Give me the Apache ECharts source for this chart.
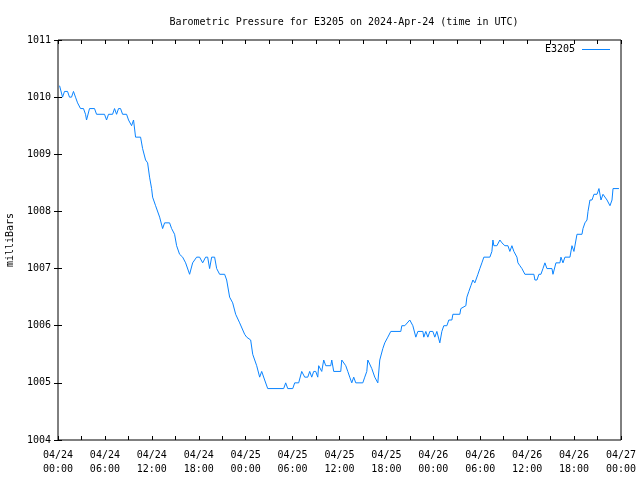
<!DOCTYPE html>
<html>
<head>
<meta charset="utf-8">
<script src="https://cdn.jsdelivr.net/npm/echarts@6/dist/echarts.min.js"></script>
<style>html,body{margin:0;padding:0;background:#fff}#c{width:640px;height:480px}</style>
</head>
<body>
<div id="c"></div>
<script>
// hours since 2024-04-24 00:00 UTC
const hours = [0.2,0.45,0.58,0.83,1.22,1.47,1.73,1.98,2.24,2.5,2.88,3.26,3.52,3.65,3.9,4.03,4.67,4.93,5.95,6.21,6.46,6.98,7.23,7.49,7.74,8.0,8.26,8.77,9.02,9.15,9.41,9.66,9.79,9.92,10.56,10.82,11.2,11.46,11.71,11.97,12.1,12.48,13.0,13.38,13.63,14.27,14.53,14.91,15.17,15.55,15.94,16.32,16.83,17.22,17.73,18.11,18.5,18.88,19.14,19.39,19.65,20.03,20.29,20.67,21.31,21.57,21.95,22.34,22.72,23.23,23.87,24.13,24.64,24.9,25.41,25.79,26.05,26.43,26.82,28.86,29.12,29.38,30.02,30.27,30.78,31.17,31.55,31.94,32.19,32.45,32.7,32.96,33.22,33.34,33.73,33.98,34.24,34.88,35.01,35.26,36.16,36.29,36.54,36.8,37.06,37.31,37.57,37.82,38.08,38.98,39.23,39.49,39.62,39.87,40.13,40.51,40.9,41.15,41.54,41.79,42.18,42.56,43.84,43.97,44.35,44.99,45.38,45.76,46.02,46.66,46.78,47.04,47.3,47.55,47.94,48.19,48.45,48.58,48.83,49.09,49.34,49.73,49.98,50.37,50.5,51.39,51.52,52.16,52.29,52.54,52.8,53.06,53.31,53.44,53.7,53.95,54.21,54.46,55.23,55.49,55.62,55.74,56.13,56.51,56.77,57.15,57.54,57.79,58.05,58.3,58.69,58.82,59.07,59.33,59.71,60.86,60.99,61.25,61.5,61.76,62.02,62.27,62.53,63.17,63.3,63.55,63.68,64.19,64.32,64.58,64.83,65.47,65.73,65.86,65.98,66.24,66.37,67.01,67.14,67.39,67.65,67.78,68.03,68.29,68.42,68.54,68.93,69.06,69.18,69.44,69.7,69.95,70.21,70.46,70.59,70.85,70.98,71.74];
const pressure = [1010.2,1010.2,1010.0,1010.1,1010.1,1010.0,1010.0,1010.1,1010.0,1009.9,1009.8,1009.8,1009.7,1009.6,1009.6,1009.8,1009.8,1009.7,1009.7,1009.6,1009.7,1009.7,1009.8,1009.7,1009.8,1009.8,1009.7,1009.7,1009.6,1009.6,1009.5,1009.6,1009.6,1009.3,1009.3,1009.1,1008.9,1008.85,1008.6,1008.4,1008.25,1008.1,1007.9,1007.7,1007.8,1007.8,1007.7,1007.6,1007.4,1007.25,1007.2,1007.1,1006.9,1007.1,1007.2,1007.2,1007.1,1007.2,1007.2,1007.0,1007.2,1007.2,1007.0,1006.9,1006.9,1006.8,1006.5,1006.4,1006.2,1006.05,1005.85,1005.8,1005.75,1005.5,1005.3,1005.1,1005.2,1005.05,1004.9,1004.9,1005.0,1004.9,1004.9,1005.0,1005.0,1005.2,1005.1,1005.1,1005.2,1005.1,1005.2,1005.2,1005.1,1005.3,1005.2,1005.4,1005.3,1005.3,1005.4,1005.2,1005.2,1005.4,1005.4,1005.3,1005.2,1005.1,1005.0,1005.1,1005.0,1005.0,1005.1,1005.2,1005.4,1005.4,1005.25,1005.1,1005.0,1005.4,1005.6,1005.7,1005.8,1005.9,1005.9,1006.0,1006.0,1006.1,1006.0,1005.8,1005.9,1005.9,1005.8,1005.9,1005.8,1005.9,1005.9,1005.8,1005.9,1005.9,1005.7,1005.9,1006.0,1006.0,1006.1,1006.1,1006.2,1006.2,1006.3,1006.35,1006.5,1006.6,1006.7,1006.8,1006.75,1006.8,1006.9,1007.0,1007.1,1007.2,1007.2,1007.3,1007.5,1007.4,1007.4,1007.5,1007.45,1007.4,1007.4,1007.3,1007.4,1007.3,1007.2,1007.1,1007.05,1007.0,1006.9,1006.9,1006.8,1006.8,1006.9,1006.9,1007.0,1007.1,1007.0,1007.0,1006.9,1006.9,1007.1,1007.1,1007.2,1007.1,1007.2,1007.2,1007.4,1007.4,1007.3,1007.5,1007.6,1007.6,1007.7,1007.8,1007.85,1008.0,1008.2,1008.2,1008.25,1008.3,1008.3,1008.35,1008.4,1008.2,1008.3,1008.3,1008.2,1008.2,1008.1,1008.2,1008.4,1008.4];
const xTickLabels = ['04/24\n00:00','04/24\n06:00','04/24\n12:00','04/24\n18:00','04/25\n00:00','04/25\n06:00','04/25\n12:00','04/25\n18:00','04/26\n00:00','04/26\n06:00','04/26\n12:00','04/26\n18:00','04/27\n00:00'];
const seriesName = 'E3205';
const titleText = 'Barometric Pressure for E3205 on 2024-Apr-24 (time in UTC)';
const yName = 'milliBars';

const FONT = 'DejaVu Sans Mono';
const LINE_COLOR = '#0a84ff';
const chart = echarts.init(document.getElementById('c'), null, {renderer: 'canvas'});
const tickCommon = {show: true, inside: true, length: 4, lineStyle: {color: '#000'}};
chart.setOption({
  animation: false,
  backgroundColor: '#fff',
  textStyle: {fontFamily: FONT},
  title: {text: titleText, left: 339, textAlign: 'center', top: 12,
    textStyle: {fontFamily: FONT, fontSize: 10, fontWeight: 'normal', color: '#000'}},
  grid: {left: 58, right: 19, top: 40, bottom: 40, show: true, borderColor: '#000', borderWidth: 1,
    containLabel: false, outerBoundsMode: 'none'},
  graphic: [
    {type: 'text', right: 65, top: 44, style: {text: seriesName, fill: '#000', font: '10px "DejaVu Sans Mono"', textAlign: 'right'}},
    {type: 'line', shape: {x1: 582, y1: 49.5, x2: 610, y2: 49.5}, style: {stroke: LINE_COLOR, lineWidth: 1}}
  ],
  xAxis: [
    {type: 'value', min: 0, max: 72, interval: 6, position: 'bottom',
      axisLine: {show: false}, splitLine: {show: false},
      axisTick: tickCommon,
      minorTick: {show: true, splitNumber: 2, length: 4, lineStyle: {color: '#000'}},
      axisLabel: {color: '#000', fontFamily: FONT, fontSize: 10, margin: 8, lineHeight: 14,
        formatter: v => xTickLabels[Math.round(v / 6)]}},
    {type: 'value', min: 0, max: 72, interval: 6, position: 'top',
      axisLine: {show: false}, splitLine: {show: false},
      axisTick: tickCommon,
      minorTick: {show: true, splitNumber: 2, length: 4, lineStyle: {color: '#000'}},
      axisLabel: {show: false}}
  ],
  yAxis: [
    {type: 'value', min: 1004, max: 1011, interval: 1, position: 'left',
      axisLine: {show: false}, splitLine: {show: false}, axisTick: tickCommon,
      axisLabel: {color: '#000', fontFamily: FONT, fontSize: 10, margin: 7, formatter: v => String(v)},
      name: yName, nameLocation: 'middle', nameGap: 43, nameRotate: 90,
      nameTextStyle: {color: '#000', fontFamily: FONT, fontSize: 10}},
    {type: 'value', min: 1004, max: 1011, interval: 1, position: 'right',
      axisLine: {show: false}, splitLine: {show: false}, axisTick: tickCommon,
      axisLabel: {show: false}}
  ],
  series: [{
    name: seriesName, type: 'line', xAxisIndex: 0, yAxisIndex: 0,
    data: hours.map((h, i) => [h, pressure[i]]),
    showSymbol: false, symbol: 'none',
    lineStyle: {color: LINE_COLOR, width: 1}, itemStyle: {color: LINE_COLOR}
  }]
});
</script>
</body>
</html>
